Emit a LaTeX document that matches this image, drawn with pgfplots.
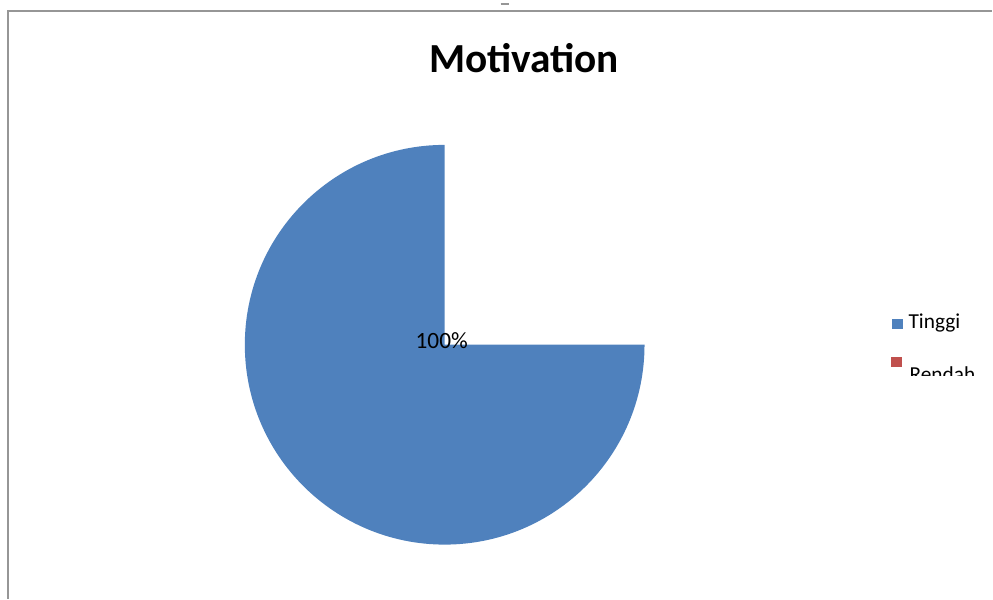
\documentclass[border=0pt]{standalone}
\usepackage{fontspec}
\setmainfont{Carlito}
\usepackage{pgfplots}
\pgfplotsset{compat=1.18}
\definecolor{pieblue}{HTML}{4F81BD}
\definecolor{piered}{HTML}{C0504D}
\definecolor{frame}{RGB}{150,150,150}
% pie: Tinggi 100%, Rendah 0% (sector drawn from 90 to 360 deg as in the source)
\newcommand{\piecx}{445}
\newcommand{\piecy}{254}
\begin{document}
\begin{tikzpicture}
\begin{axis}[width=744.75pt, height=449.25pt, scale only axis,
  xmin=0, xmax=993, ymin=0, ymax=599, hide axis, clip=false]
\path (axis cs:0,0) rectangle (axis cs:993,599);
% frame
\addplot[color=frame, line width=1.1pt] coordinates {(8,0) (8,588) (993,588)};
\addplot[color=frame, line width=1pt] coordinates {(501,595) (509,595)};
% pie sector
\fill[pieblue] (axis cs:\piecx,\piecy) -- (axis cs:\piecx,454)
  arc[start angle=90, end angle=360, radius=150pt] -- cycle;
\node[font=\fontsize{17.5}{20}\selectfont] at (axis cs:442,258) {100\%};
% title
\node[font=\fontsize{31}{36}\selectfont\bfseries] at (axis cs:524.5,541) {Motivation};
% legend
\addplot[only marks, mark=square*, mark size=3.6pt, color=pieblue] coordinates {(898,275)};
\addplot[only marks, mark=square*, mark size=3.6pt, color=piered] coordinates {(897,237)};
\node[anchor=west, inner sep=0pt, font=\fontsize{16}{19}\selectfont] at (axis cs:909,276) {Tinggi};
\begin{scope}
\clip (axis cs:900,223) rectangle (axis cs:990,240);
\node[anchor=base west, inner sep=0pt, font=\fontsize{16}{19}\selectfont] at (axis cs:910,217) {Rendah};
\end{scope}
\end{axis}
\end{tikzpicture}
\end{document}
